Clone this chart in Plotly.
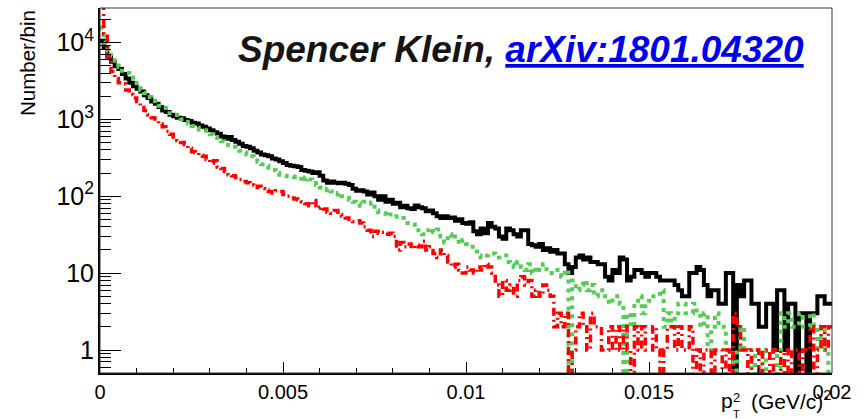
import numpy as np
import plotly.graph_objects as go

# ---- data (counts per bin, 200 bins of width 0.0001 over 0..0.02) ----
x_min, x_max, n_bins = 0.0, 0.02, 200

black = [
    10500, 8500, 6500, 5600, 4900, 4500, 3900, 3400, 3000, 2700,
    2500, 2300, 2050, 1900, 1700, 1600, 1450, 1300, 1250, 1150,
    1100, 1050, 1030, 980, 950, 900, 880, 830, 800, 760,
    720, 680, 650, 600, 560, 590, 540, 510, 480, 450,
    440, 420, 390, 370, 350, 340, 330, 310, 300, 285,
    270, 255, 250, 245, 240, 220, 215, 210, 200, 205,
    185, 160, 150, 155, 150, 148, 150, 145, 140, 125,
    118, 120, 115, 105, 112, 100, 90, 100, 85, 90,
    80, 82, 72, 75, 70, 68, 76, 72, 70, 64,
    65, 60, 55, 52, 55, 52, 53, 48, 50, 45,
    44, 46, 35, 32, 38, 33, 45, 40, 38, 30,
    28, 38, 36, 32, 30, 36, 36, 24, 23, 22,
    24, 20, 21, 19, 20, 18, 18, 13, 10, 12,
    16, 17, 15, 16, 14, 14, 13, 13, 9, 8,
    11, 10, 16, 15, 8, 9, 11, 11, 10, 9,
    10, 10, 9, 8, 8, 8, 8, 7, 6, 5,
    5, 10, 10, 12, 11, 7, 5, 6, 6, 4,
    4, 10, 10, 0, 7, 5, 8, 8, 4, 4,
    2, 2, 4, 4, 1, 6, 6, 1, 4, 4,
    0, 3, 3, 0, 3, 3, 5, 5, 4, 4,
]

green = [
    15500, 10000, 7800, 6700, 5800, 4800, 4300, 4000, 3500, 3000,
    2700, 2400, 2200, 1950, 1750, 1600, 1500, 1400, 1300, 1200,
    1150, 1050, 1000, 930, 880, 820, 780, 740, 720, 660,
    640, 590, 570, 520, 500, 460, 440, 410, 390, 370,
    350, 330, 320, 280, 260, 250, 235, 220, 200, 190,
    185, 182, 180, 178, 180, 155, 175, 165, 160, 140,
    130, 120, 125, 115, 105, 110, 100, 95, 90, 85,
    80, 75, 85, 80, 83, 65, 62, 60, 55, 58,
    54, 55, 52, 48, 45, 43, 40, 33, 32, 36,
    38, 34, 37, 30, 25, 32, 28, 30, 24, 27,
    24, 22, 22, 17, 16, 17, 18, 18, 17, 16,
    17, 14, 13, 12, 14, 12, 11, 13, 10, 12,
    11, 13, 10, 10, 10, 11, 9, 11, 0, 8,
    6, 7, 8, 6, 7, 5, 6, 6, 5, 4,
    5, 5, 4, 0, 3, 2, 4, 5, 3, 4,
    5, 5, 5, 6, 2, 3, 2, 3, 4, 4,
    3, 3, 4, 3, 2, 3, 1, 2, 3, 2,
    2, 1, 1, 0, 1, 2, 1, 1, 0, 1,
    1, 0, 1, 1, 1, 0, 3, 2, 3, 2,
    2, 3, 2, 2, 3, 2, 1, 2, 1, 0,
]

red = [
    30000, 13000, 6500, 4200, 3400, 3000, 2900, 2400, 2100, 1900,
    1700, 1500, 1300, 1150, 1050, 950, 870, 800, 700, 640,
    590, 530, 500, 470, 420, 380, 370, 340, 330, 300,
    270, 290, 240, 230, 210, 190, 185, 175, 165, 155,
    150, 140, 130, 135, 125, 120, 115, 110, 118, 115,
    105, 100, 95, 92, 90, 85, 80, 75, 88, 70,
    72, 68, 62, 60, 65, 58, 55, 52, 50, 47,
    48, 45, 40, 36, 30, 35, 33, 34, 32, 33,
    30, 20, 25, 22, 24, 21, 23, 22, 26, 20,
    22, 18, 16, 20, 17, 14, 12, 13, 11, 10,
    12, 11, 10, 12, 11, 13, 12, 10, 7, 5,
    8, 6, 7, 5, 8, 9, 7, 8, 5, 6,
    5, 7, 6, 5, 2, 3, 2, 3, 0, 1,
    2, 3, 2, 1, 3, 2, 2, 1, 1, 2,
    1, 2, 1, 2, 1, 0, 2, 1, 2, 1,
    1, 2, 1, 0, 1, 2, 2, 1, 2, 1,
    1, 2, 0, 1, 0, 1, 1, 0, 1, 1,
    0, 1, 0, 3, 2, 1, 1, 0, 1, 1,
    0, 1, 1, 0, 1, 1, 0, 1, 0, 1,
    1, 0, 1, 1, 2, 0, 1, 2, 1, 2,
]

edges = np.linspace(x_min, x_max, n_bins + 1)


def step(vals):
    # empty bins drop below the log axis (as ROOT draws them)
    v = [val if val > 0 else 0.05 for val in vals]
    return edges, v + [v[-1]]


FONT = "Liberation Sans, Arial, Helvetica, sans-serif"

fig = go.Figure()
styles = [
    (black, "#000000", "solid", 4),
    (green, "#55cc55", "4px,5px", 4),
    (red, "#ff0000", "8px,4px,2px,4px", 3.5),
]
for vals, color, dash, width in styles:
    xs, ys = step(vals)
    fig.add_trace(go.Scatter(
        x=xs, y=ys, mode="lines",
        line=dict(shape="hv", color=color, dash=dash, width=width),
        showlegend=False, hoverinfo="skip",
    ))

L, R, T, B = 100, 33, 8, 46
W, H = 865, 419
pw, ph = W - L - R, H - T - B


def px(xp):
    return (xp - L) / pw


def py(yp):
    return (H - B - yp) / ph


fig.update_layout(
    width=W, height=H,
    margin=dict(l=L, r=R, t=T, b=B),
    paper_bgcolor="white", plot_bgcolor="white",
    font=dict(family=FONT, size=20, color="black"),
    xaxis=dict(
        range=[x_min, x_max], tick0=0, dtick=0.005,
        ticks="inside", ticklen=11, tickwidth=1, tickcolor="black",
        showline=True, linecolor="black", linewidth=2,
        showgrid=False, zeroline=False,
        tickfont=dict(family=FONT, size=20, color="black"),
        minor=dict(tick0=0, dtick=0.001, ticks="inside", ticklen=5,
                   tickwidth=1, tickcolor="black", showgrid=False),
    ),
    yaxis=dict(
        type="log", range=[-0.299, 4.448], dtick=1, exponentformat="power",
        ticks="inside", ticklen=21, tickwidth=1, tickcolor="black",
        showline=True, linecolor="black", linewidth=2,
        showgrid=False, zeroline=False,
        tickfont=dict(family=FONT, size=20, color="black"),
        minor=dict(dtick="D1", ticks="inside", ticklen=11,
                   tickwidth=1, tickcolor="black", showgrid=False),
    ),
    shapes=[dict(type="rect", xref="paper", yref="paper", x0=0, x1=1, y0=0, y1=1,
                 line=dict(color="#333333", width=1))],
)

ann = [
    dict(text="<b><i>Spencer Klein, <span style='color:#0000ee'><u>arXiv:1801.04320</u></span></i></b>",
         x=px(806), y=py(50), xanchor="right", yanchor="middle",
         font=dict(family=FONT, size=37, color="#151515")),
    dict(text="Number/bin", textangle=-90, x=px(27), y=py(63),
         xanchor="center", yanchor="middle",
         font=dict(family=FONT, size=20.5, color="black")),
    dict(text="p", x=px(727), y=py(401), xanchor="center", yanchor="middle",
         font=dict(family=FONT, size=21, color="black")),
    dict(text="2", x=px(736), y=py(397), xanchor="center", yanchor="middle",
         font=dict(family=FONT, size=13, color="black")),
    dict(text="T", x=px(736), y=py(414), xanchor="center", yanchor="middle",
         font=dict(family=FONT, size=11, color="black")),
    dict(text="(GeV/c)<sup>2</sup>", x=px(749), y=py(400), xanchor="left", yanchor="middle",
         font=dict(family=FONT, size=21, color="black")),
]
for a in ann:
    a.update(xref="paper", yref="paper", showarrow=False)
fig.update_layout(annotations=ann)

fig.write_html("out.html")
